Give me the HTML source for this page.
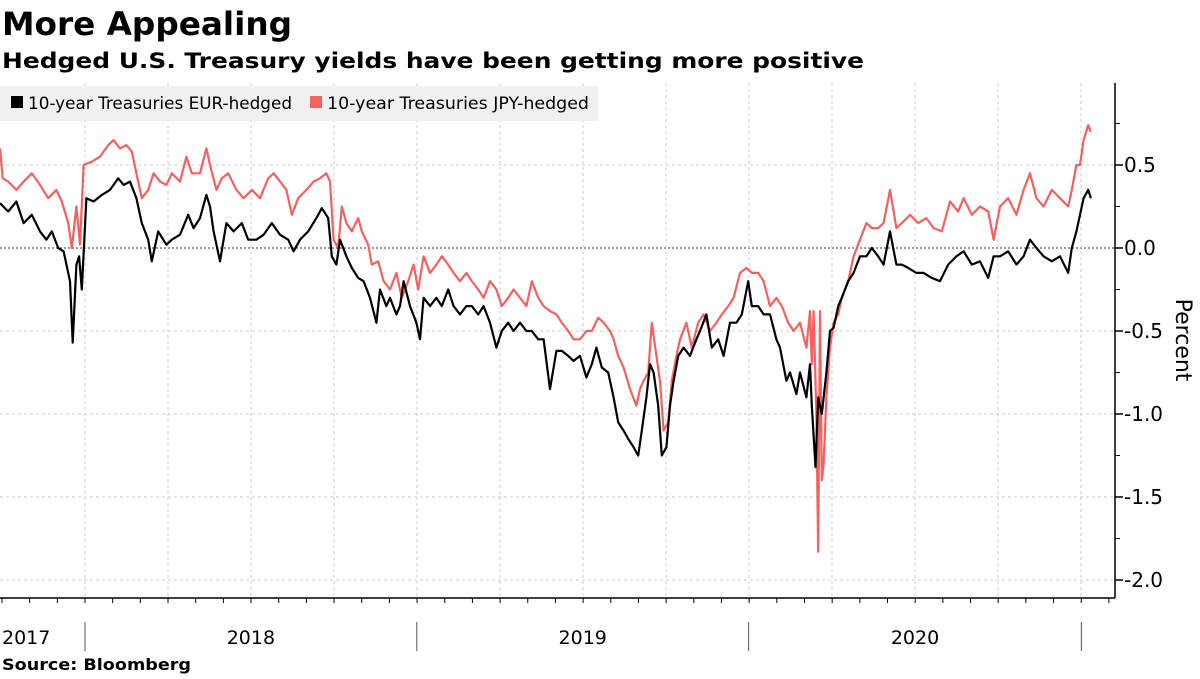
<!DOCTYPE html>
<html><head><meta charset="utf-8">
<style>
body{margin:0;background:#fff;width:1200px;height:675px;overflow:hidden;font-family:"DejaVu Sans","Liberation Sans",sans-serif;}
svg text{font-family:"DejaVu Sans","Liberation Sans",sans-serif;}
</style></head>
<body>
<svg id="chart" width="1200" height="675" viewBox="0 0 1200 675" xmlns="http://www.w3.org/2000/svg">
<text x="2" y="35" font-size="32" font-weight="bold" fill="#000" textLength="290" lengthAdjust="spacingAndGlyphs">More Appealing</text>
<text x="2" y="68" font-size="21" font-weight="bold" fill="#000" textLength="862" lengthAdjust="spacingAndGlyphs">Hedged U.S. Treasury yields have been getting more positive</text>
<g id="grid"></g>
<g id="series"></g>
<g id="legend">
<rect x="0" y="86" width="598" height="35" fill="#f0f0f0"/>
<rect x="11" y="96" width="12" height="12" fill="#000"/>
<text x="28" y="109" font-size="17" fill="#000" textLength="264" lengthAdjust="spacingAndGlyphs">10-year Treasuries EUR-hedged</text>
<rect x="310" y="96" width="12" height="12" fill="#f4615f"/>
<text x="327" y="109" font-size="17" fill="#000" textLength="262" lengthAdjust="spacingAndGlyphs">10-year Treasuries JPY-hedged</text>
</g>
<g id="axes"></g>
<text transform="translate(1176,340) rotate(90)" text-anchor="middle" font-size="22" fill="#000">Percent</text>
<text x="2" y="670" font-size="16" font-weight="bold" fill="#000" textLength="189" lengthAdjust="spacingAndGlyphs">Source: Bloomberg</text>
</svg>
<script>
// days since 2017-09-28
const eurDays=[0,9,18,26,35,44,51,57,64,70,77,80,84,87,90,95,103,112,121,130,136,143,150,156,163,167,174,183,189,198,207,213,220,227,231,235,242,249,257,266,273,282,290,299,308,317,323,330,339,348,354,361,365,370,374,381,387,394,400,407,414,418,425,429,436,440,444,451,458,462,466,473,480,486,493,499,506,513,519,526,532,539,546,552,559,565,572,579,585,592,598,605,612,618,625,631,638,645,651,656,662,669,675,680,686,691,697,702,706,711,715,719,724,728,733,737,741,746,752,759,766,770,777,783,790,796,803,810,816,823,827,834,840,847,854,858,865,869,876,880,887,891,893,897,900,904,909,913,917,922,926,933,939,946,953,959,966,972,979,986,992,999,1008,1016,1025,1034,1043,1052,1060,1069,1078,1087,1093,1100,1109,1118,1126,1133,1140,1148,1157,1166,1175,1179,1184,1188,1192,1197,1200];
const eurValues=[0.27,0.22,0.28,0.15,0.2,0.1,0.05,0.1,0.0,-0.02,-0.2,-0.57,-0.1,-0.05,-0.25,0.3,0.28,0.32,0.35,0.42,0.38,0.4,0.3,0.15,0.05,-0.08,0.1,0.02,0.05,0.08,0.2,0.12,0.18,0.32,0.25,0.1,-0.08,0.15,0.1,0.15,0.05,0.05,0.08,0.15,0.08,0.05,-0.02,0.05,0.1,0.18,0.24,0.18,-0.05,-0.1,0.05,-0.05,-0.12,-0.18,-0.2,-0.3,-0.45,-0.25,-0.35,-0.3,-0.4,-0.35,-0.2,-0.35,-0.45,-0.55,-0.3,-0.35,-0.3,-0.35,-0.25,-0.35,-0.4,-0.35,-0.35,-0.4,-0.35,-0.45,-0.6,-0.5,-0.45,-0.5,-0.45,-0.5,-0.5,-0.55,-0.55,-0.85,-0.62,-0.62,-0.65,-0.68,-0.65,-0.78,-0.7,-0.6,-0.72,-0.75,-0.9,-1.05,-1.1,-1.15,-1.2,-1.25,-1.1,-0.9,-0.7,-0.75,-0.95,-1.25,-1.2,-0.95,-0.8,-0.65,-0.6,-0.65,-0.55,-0.5,-0.4,-0.6,-0.55,-0.65,-0.45,-0.45,-0.4,-0.2,-0.35,-0.35,-0.4,-0.4,-0.55,-0.6,-0.8,-0.75,-0.88,-0.75,-0.9,-0.7,-0.95,-1.32,-0.9,-1.0,-0.75,-0.5,-0.48,-0.35,-0.3,-0.2,-0.15,-0.05,-0.05,0.0,-0.05,-0.1,0.1,-0.1,-0.1,-0.12,-0.15,-0.15,-0.18,-0.2,-0.1,-0.05,-0.02,-0.1,-0.08,-0.18,-0.05,-0.05,-0.02,-0.1,-0.05,0.05,0.0,-0.05,-0.08,-0.05,-0.15,0.0,0.1,0.2,0.3,0.35,0.3];
const jpyDays=[0,3,9,18,26,35,44,53,62,68,75,79,84,88,92,101,110,119,125,132,139,145,150,156,163,169,176,183,189,198,205,211,220,227,231,238,244,251,260,268,277,286,295,301,308,315,321,328,337,345,352,359,363,367,372,376,381,387,394,398,405,409,416,422,429,436,442,449,455,460,466,473,480,486,493,499,506,513,519,526,532,539,546,552,559,565,572,579,585,592,598,605,612,618,625,631,638,645,651,658,664,671,675,680,686,693,700,704,708,713,717,722,726,730,735,739,744,748,755,761,768,774,781,788,794,801,807,814,821,827,834,840,847,854,860,867,873,880,887,891,893,895,898,900,902,904,906,909,913,917,922,926,933,939,946,953,959,966,972,979,986,992,1001,1010,1019,1027,1036,1045,1054,1060,1069,1078,1087,1093,1100,1109,1118,1126,1133,1140,1148,1157,1166,1175,1179,1184,1188,1192,1197,1200];
const jpyValues=[0.6,0.42,0.4,0.35,0.4,0.45,0.38,0.3,0.35,0.28,0.15,0.0,0.25,0.02,0.5,0.52,0.55,0.62,0.65,0.6,0.62,0.58,0.45,0.3,0.35,0.45,0.4,0.38,0.45,0.4,0.55,0.45,0.45,0.6,0.5,0.35,0.42,0.45,0.35,0.3,0.35,0.3,0.42,0.45,0.4,0.35,0.2,0.3,0.35,0.4,0.42,0.45,0.4,0.05,0.0,0.25,0.15,0.1,0.18,0.1,0.02,-0.1,-0.08,-0.2,-0.25,-0.15,-0.3,-0.2,-0.1,-0.25,-0.05,-0.15,-0.1,-0.05,-0.1,-0.15,-0.2,-0.15,-0.2,-0.25,-0.3,-0.2,-0.25,-0.35,-0.3,-0.25,-0.3,-0.35,-0.2,-0.3,-0.35,-0.38,-0.4,-0.45,-0.5,-0.55,-0.55,-0.5,-0.5,-0.42,-0.45,-0.5,-0.55,-0.65,-0.72,-0.85,-0.95,-0.85,-0.8,-0.75,-0.45,-0.65,-0.8,-1.1,-1.05,-0.8,-0.65,-0.55,-0.45,-0.6,-0.45,-0.4,-0.5,-0.45,-0.4,-0.35,-0.3,-0.15,-0.12,-0.15,-0.15,-0.2,-0.35,-0.3,-0.35,-0.45,-0.5,-0.45,-0.6,-0.38,-0.7,-0.38,-1.0,-1.83,-0.38,-1.4,-1.3,-0.9,-0.6,-0.45,-0.4,-0.3,-0.2,-0.05,0.05,0.15,0.12,0.12,0.15,0.35,0.12,0.15,0.2,0.15,0.18,0.12,0.1,0.28,0.22,0.3,0.2,0.25,0.22,0.05,0.25,0.3,0.2,0.35,0.45,0.3,0.25,0.35,0.3,0.25,0.35,0.5,0.5,0.65,0.74,0.7];
const yTicks=[0.5,0.0,-0.5,-1.0,-1.5,-2.0];
const yTickLabels=["0.5","0.0","-0.5","-1.0","-1.5","-2.0"];
const yearLabels=["2017","2018","2019","2020"];
const yearStartDays=[-272,93.5,458.5,823.5,1189.5];

const NS="http://www.w3.org/2000/svg";
const X0=0,PXPERDAY=1/1.1,AXISX=1115,PLOTTOP=83,PLOTBOTTOM=598;
function xs(d){return X0+d*PXPERDAY;}
function ys(v){return 248-166*v;}
function mk(tag,attrs,parent){const e=document.createElementNS(NS,tag);for(const k in attrs)e.setAttribute(k,attrs[k]);parent.appendChild(e);return e;}
const grid=document.getElementById('grid'),axes=document.getElementById('axes'),series=document.getElementById('series');

yTicks.forEach((v,i)=>{
  const l=mk('line',{x1:0,x2:AXISX,y1:ys(v),y2:ys(v),stroke:v===0?'#999':'#ccc','stroke-width':v===0?2:1,'stroke-dasharray':v===0?'2,2':'3,3'},grid);
  
  
  const t=mk('line',{x1:AXISX,x2:AXISX+8,y1:ys(v),y2:ys(v),stroke:'#000','stroke-width':1.5},axes);
  
  
  const tx=mk('text',{x:AXISX+9,y:ys(v)+7,'font-size':20,fill:'#000'},axes);
  tx.textContent=yTickLabels[i];
  
  
});
for(let v=0.75;v>-2.1;v-=0.5){
  const t=mk('line',{x1:AXISX,x2:AXISX+5,y1:ys(v),y2:ys(v),stroke:'#000','stroke-width':1},axes);
  
  
}
for(let q=0;q<13;q++){
  const x=xs(yearStartDays[1]+q*91.3);
  if(x>AXISX)break;
  const l=mk('line',{x1:x,x2:x,y1:PLOTTOP,y2:PLOTBOTTOM,stroke:'#ccc','stroke-width':1,'stroke-dasharray':'3,3'},grid);
  
  
}
const ya=mk('line',{x1:AXISX,x2:AXISX,y1:PLOTTOP,y2:PLOTBOTTOM,stroke:'#000','stroke-width':1.5},axes);


const xa=mk('line',{x1:0,x2:AXISX,y1:PLOTBOTTOM,y2:PLOTBOTTOM,stroke:'#000','stroke-width':1.5},axes);


for(let m=-3;m<40;m++){
  const x=xs(yearStartDays[1]+m*30.44);
  if(x<0||x>AXISX)continue;
  const t=mk('line',{x1:x,x2:x,y1:PLOTBOTTOM,y2:PLOTBOTTOM+5,stroke:'#000','stroke-width':1},axes);
  
  
}
yearLabels.forEach((lab,i)=>{
  const a=Math.max(0,xs(yearStartDays[i])),b=Math.min(AXISX,xs(yearStartDays[i+1]));
  const tx=mk('text',{x:i===0?2:(a+b)/2,y:644,'font-size':19,fill:'#000','text-anchor':i===0?'start':'middle'},axes);
  tx.textContent=lab;
  
  
});
for(let i=1;i<yearStartDays.length;i++){
  const x=xs(yearStartDays[i]);
  const s=mk('line',{x1:x,x2:x,y1:622,y2:651,stroke:'#555','stroke-width':1},axes);
  
  
}
function drawLine(days,vals,color,name){
  const d=days.map((dd,i)=>(i?'L':'M')+xs(dd).toFixed(1)+','+ys(vals[i]).toFixed(1)).join('');
  const p=mk('path',{d:d,fill:'none',stroke:color,'stroke-width':2.2,'stroke-linejoin':'round'},series);
  
  
}
drawLine(jpyDays,jpyValues,'#f4615f','line-jpy-hedged');
drawLine(eurDays,eurValues,'#000','line-eur-hedged');
</script>
</body></html>
